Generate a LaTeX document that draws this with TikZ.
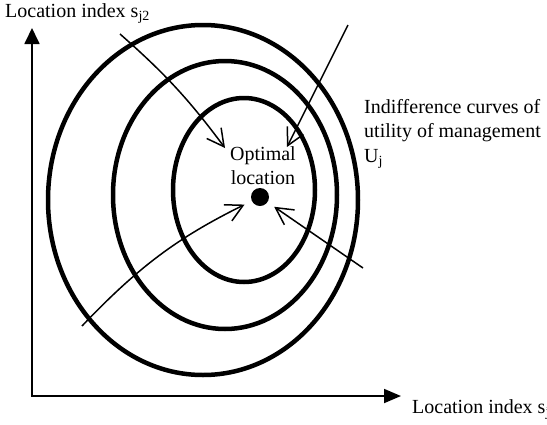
\documentclass[tikz,border=0pt]{standalone}
\usepackage{fontspec}
\setmainfont{Liberation Serif}
\usetikzlibrary{arrows.meta}
\tikzset{
  curve/.style={line width=4.5pt},
  axis/.style={line width=1.8pt, {Triangle[length=16pt,width=15pt]}-{Triangle[length=17pt,width=14pt]}},
  pointer/.style={line width=1.5pt, -{Straight Barb[length=17pt,width=18pt]}},
  txt/.style={inner sep=0pt, font=\fontsize{20}{24.5}\selectfont},
  optimum/.style={circle, fill=black, inner sep=0pt, minimum size=18pt}
}
\begin{document}
\begin{tikzpicture}[x=1pt, y=-1pt]
\useasboundingbox (0,0) rectangle (547,424);
% axes
\coordinate (origin) at (32,396);
\coordinate (ytop) at (32,28);
\coordinate (xend) at (401,396);
\draw[axis] (ytop) -- (origin) -- (xend);
\node[txt, anchor=base west] (ylabel) at (5,17) {Location index s\textsubscript{j2}};
\node[txt, anchor=base west] (xlabel) at (412,413) {Location index s\textsubscript{j}};
% indifference curves
\draw[curve] (203,200) ellipse [x radius=155pt, y radius=175pt];
\draw[curve] (225,195) ellipse [x radius=112pt, y radius=134pt];
\draw[curve] (244,190) ellipse [x radius=71pt, y radius=92pt];
% optimum
\node[optimum] (dot) at (260,197) {};
\node[txt, anchor=north, align=center] (opt) at (263,146) {Optimal\\location};
\node[txt, anchor=north west, align=left] (curves) at (364,99) {Indifference curves of\\utility of management\\U\textsubscript{j}};
% pointers
\coordinate (p1) at (120,34);
\coordinate (p2) at (348,25);
\coordinate (p3) at (82,326);
\coordinate (p4) at (363,268);
\coordinate (t1) at (225,148);
\coordinate (t2) at (287,147);
\draw[pointer] (p1) to[bend left=6] (t1);
\draw[pointer] (p2) -- (t2);
\draw[pointer, shorten >=8pt] (p3) to[bend left=10] (dot);
\draw[pointer, shorten >=8pt] (p4) -- (dot);
\end{tikzpicture}
\end{document}
